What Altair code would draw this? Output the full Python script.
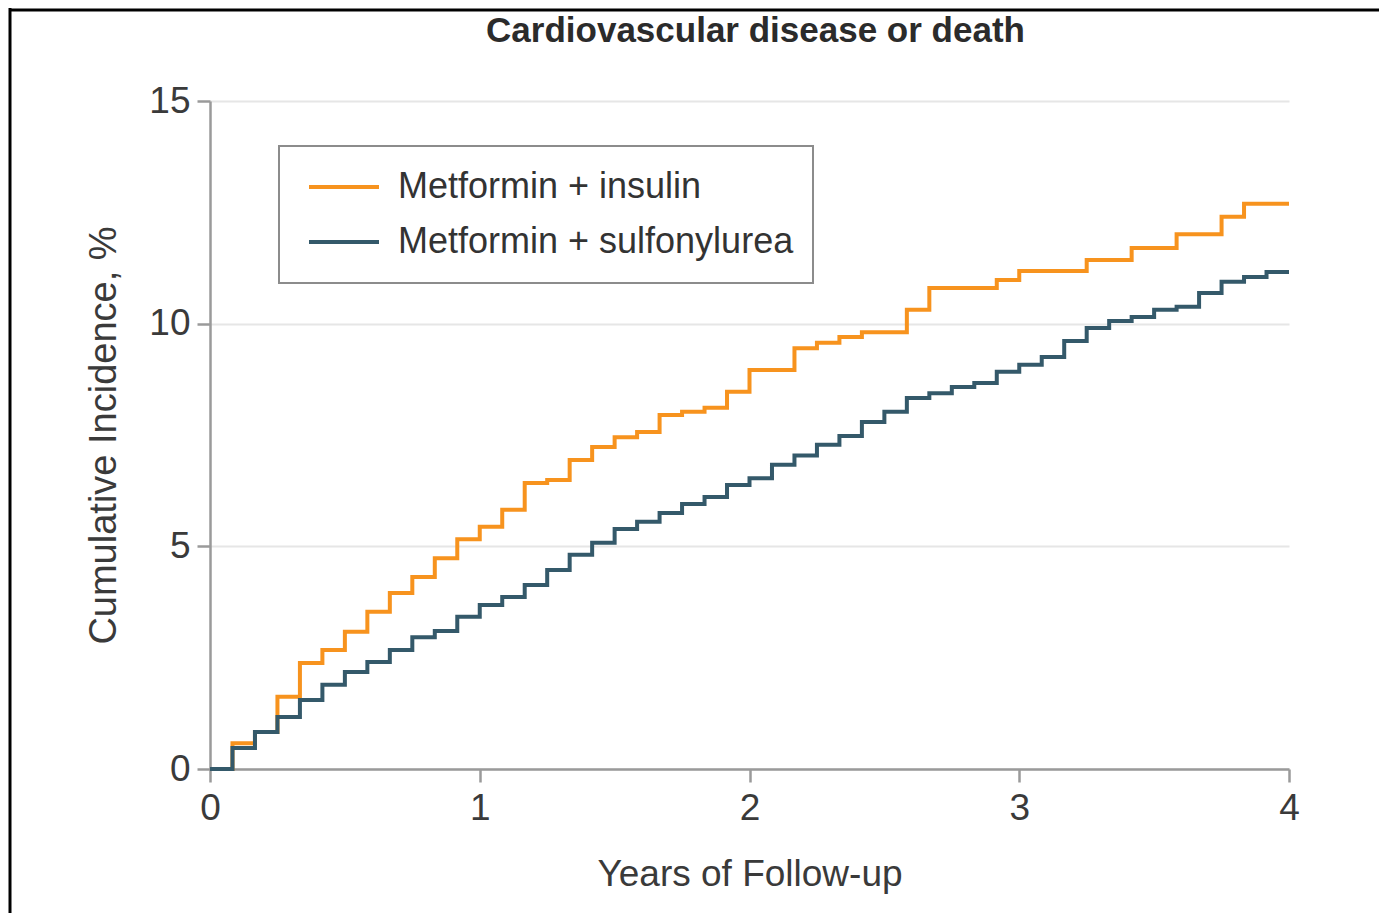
import altair as alt
import pandas as pd

# Month index (follow-up time in months) at which each step value starts
months = list(range(48))

insulin = [0, 0.58, 0.83, 1.62, 2.38, 2.67, 3.08, 3.53, 3.95, 4.31, 4.73, 5.16,
           5.44, 5.82, 6.42, 6.49, 6.94, 7.23, 7.45, 7.57, 7.95, 8.02, 8.11, 8.47,
           8.96, 8.96, 9.45, 9.57, 9.70, 9.81, 9.81, 10.31, 10.80, 10.80, 10.80, 10.98,
           11.18, 11.18, 11.18, 11.43, 11.43, 11.70, 11.70, 12.01, 12.01, 12.40, 12.69, 12.69]

sulfonylurea = [0, 0.47, 0.83, 1.17, 1.55, 1.89, 2.18, 2.40, 2.67, 2.96, 3.10, 3.42,
                3.68, 3.86, 4.13, 4.47, 4.81, 5.08, 5.39, 5.55, 5.75, 5.95, 6.11, 6.38,
                6.53, 6.83, 7.04, 7.28, 7.48, 7.79, 8.02, 8.33, 8.44, 8.58, 8.67, 8.92,
                9.08, 9.25, 9.61, 9.90, 10.06, 10.15, 10.31, 10.38, 10.69, 10.94, 11.05, 11.16]

series_names = ["Metformin + insulin", "Metformin + sulfonylurea"]
series_colors = ["#F7931E", "#34596A"]
x_ticks = [0, 1, 2, 3, 4]
y_ticks = [0, 5, 10, 15]
end_year = 4.0

rows = []
for name, vals in zip(series_names, [insulin, sulfonylurea]):
    for m, v in zip(months, vals):
        rows.append({"years": m / 12.0, "inc": v, "group": name})
    rows.append({"years": end_year, "inc": vals[-1], "group": name})
df = pd.DataFrame(rows)

FONT = "Liberation Sans"
W, H = 1079, 668
PAD_L, PAD_T, PAD_R, PAD_B = 202, 93, 90, 144

lines = alt.Chart(df).mark_line(interpolate="step-after", strokeWidth=4).encode(
    x=alt.X("years:Q",
            scale=alt.Scale(domain=[0, 4], nice=False, zero=True),
            axis=alt.Axis(values=x_ticks, format="d", title="Years of Follow-up",
                          grid=False, tickSize=13, labelPadding=8, titlePadding=30,
                          labelFlush=False)),
    y=alt.Y("inc:Q",
            scale=alt.Scale(domain=[0, 15], nice=False),
            axis=alt.Axis(values=y_ticks, format="d", title="Cumulative Incidence, %",
                          grid=True, tickSize=13, labelPadding=7, titlePadding=25,
                          labelFlush=False, titleFontSize=38)),
    color=alt.Color("group:N",
                    scale=alt.Scale(domain=series_names, range=series_colors),
                    legend=alt.Legend(title=None, orient="none", legendX=69, legendY=45,
                                      symbolType="stroke", symbolSize=4900,
                                      symbolStrokeWidth=4, clipHeight=44, rowPadding=11,
                                      padding=19, symbolOffset=9, labelOffset=17,
                                      labelFontSize=36, labelFont=FONT, labelColor="#333333",
                                      labelLimit=700, strokeColor="#8c8c8c",
                                      fillColor="white")),
)

frame_data = pd.DataFrame({"k": [0]})
frame_top = alt.Chart(frame_data).mark_rule(color="black", strokeWidth=3).encode(
    x=alt.value(-200), x2=alt.value(W + PAD_R + 10), y=alt.value(-91))
frame_left = alt.Chart(frame_data).mark_rule(color="black", strokeWidth=3).encode(
    x=alt.value(-200), y=alt.value(-93), y2=alt.value(H + PAD_B))

chart = alt.layer(lines, frame_top, frame_left).properties(
    width=W, height=H,
    autosize=alt.AutoSizeParams(type="none"),
    padding={"left": PAD_L, "top": PAD_T, "right": PAD_R, "bottom": PAD_B},
    title=alt.Title("Cardiovascular disease or death", font=FONT, fontSize=35,
                    fontWeight="bold", color="#2b2b2b", anchor="middle",
                    offset=-42, dx=6),
).configure_view(stroke=None).configure_axis(
    domainColor="#9a9a9a", domainWidth=2.5, tickColor="#9a9a9a", tickWidth=2.5,
    gridColor="#e6e6e6", gridWidth=2,
    labelFont=FONT, labelFontSize=37, labelColor="#3a3a3a",
    titleFont=FONT, titleFontSize=37, titleColor="#3a3a3a", titleFontWeight="normal",
).configure_legend(strokeWidth=2)

chart.save("out.html", embed_options={"renderer": "svg", "actions": False})
